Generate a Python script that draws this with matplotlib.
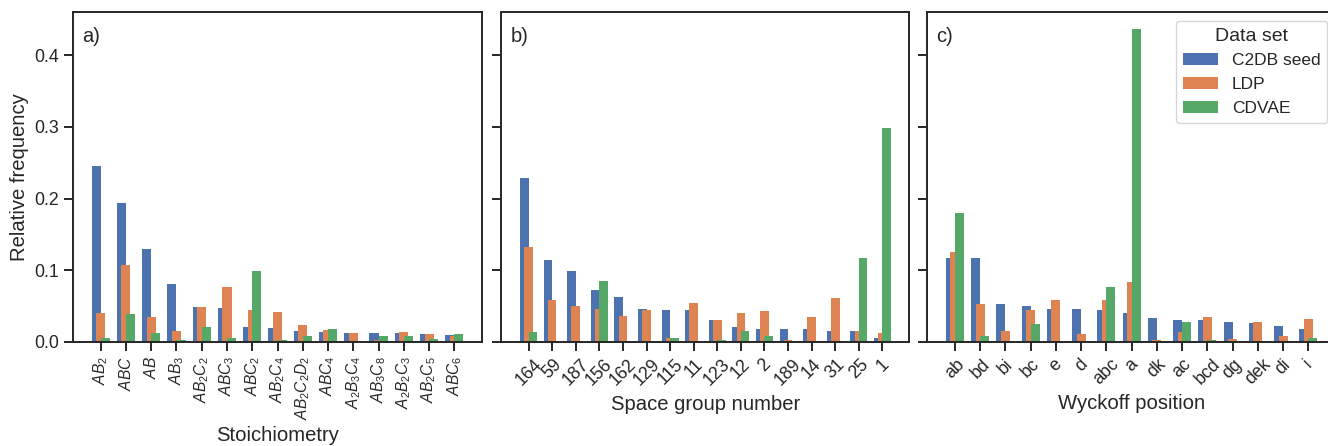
import matplotlib
matplotlib.use("Agg")
import matplotlib.pyplot as plt
import numpy as np

# ---- data ----
series_names = ["C2DB seed", "LDP", "CDVAE"]
colors = ["#4C72B0", "#DD8452", "#55A868"]

stoich_labels = ["$AB_2$", "$ABC$", "$AB$", "$AB_3$", "$AB_2C_2$", "$ABC_3$", "$ABC_2$",
                 "$AB_2C_4$", "$AB_2C_2D_2$", "$ABC_4$", "$A_2B_3C_4$", "$AB_3C_8$",
                 "$A_2B_2C_3$", "$AB_2C_5$", "$ABC_6$"]
stoich_c2db = [0.245, 0.194, 0.129, 0.081, 0.049, 0.048, 0.021, 0.020, 0.016, 0.0145,
               0.013, 0.013, 0.013, 0.0116, 0.010]
stoich_ldp = [0.041, 0.108, 0.035, 0.016, 0.049, 0.077, 0.044, 0.042, 0.024, 0.017,
              0.013, 0.003, 0.0145, 0.0116, 0.009]
stoich_cdvae = [0.006, 0.0395, 0.013, 0.003, 0.021, 0.006, 0.0995, 0.003, 0.009, 0.0186,
                0.002, 0.009, 0.009, 0.0047, 0.0116]

sg_labels = ["164", "59", "187", "156", "162", "129", "115", "11", "123", "12", "2",
             "189", "14", "31", "25", "1"]
sg_c2db = [0.229, 0.115, 0.0995, 0.073, 0.063, 0.0465, 0.045, 0.045, 0.030, 0.021,
           0.0186, 0.0186, 0.0186, 0.016, 0.016, 0.006]
sg_ldp = [0.133, 0.059, 0.0507, 0.0465, 0.0367, 0.045, 0.006, 0.055, 0.030, 0.041,
          0.0437, 0.003, 0.035, 0.062, 0.016, 0.013]
sg_cdvae = [0.0144, 0.002, 0.002, 0.0856, 0.002, 0.002, 0.006, 0.0, 0.003, 0.016,
            0.009, 0.0, 0.0, 0.0, 0.1177, 0.2977]

wy_labels = ["ab", "bd", "bi", "bc", "e", "d", "abc", "a", "dk", "ac", "bcd", "dg",
             "dek", "di", "i"]
wy_c2db = [0.1177, 0.1177, 0.0535, 0.0507, 0.0465, 0.0465, 0.045, 0.041, 0.034, 0.031,
           0.030, 0.0284, 0.027, 0.0228, 0.0186]
wy_ldp = [0.126, 0.0535, 0.016, 0.045, 0.059, 0.0116, 0.059, 0.084, 0.003, 0.0144,
          0.035, 0.0047, 0.0284, 0.009, 0.0326]
wy_cdvae = [0.1805, 0.009, 0.0, 0.0256, 0.0, 0.002, 0.077, 0.437, 0.0, 0.0284,
            0.003, 0.0, 0.0, 0.0, 0.006]

# ---- style ----
plt.rcParams['font.family'] = ['Liberation Sans', 'DejaVu Sans']
plt.rcParams['mathtext.fontset'] = 'custom'
plt.rcParams['mathtext.rm'] = 'Liberation Sans'
plt.rcParams['mathtext.it'] = 'Liberation Sans:italic'
plt.rcParams['mathtext.bf'] = 'Liberation Sans:bold'
plt.rcParams['text.color'] = '#262626'
plt.rcParams['axes.labelcolor'] = '#262626'
plt.rcParams['xtick.color'] = '#262626'
plt.rcParams['ytick.color'] = '#262626'
plt.rcParams['axes.edgecolor'] = '#262626'
plt.rcParams['axes.linewidth'] = 1.4
plt.rcParams['xtick.major.width'] = 1.4
plt.rcParams['ytick.major.width'] = 1.4
plt.rcParams['xtick.major.size'] = 6.6
plt.rcParams['ytick.major.size'] = 6.6
plt.rcParams['xtick.labelsize'] = 12.8
plt.rcParams['ytick.labelsize'] = 12.8
plt.rcParams['axes.labelsize'] = 14.6

W, H = 1328, 446
fig = plt.figure(figsize=(W / 100, H / 100), dpi=100)
bottom = 104 / H
height = 330 / H
ax_a = fig.add_axes([73 / W, bottom, 409 / W, height])
ax_b = fig.add_axes([501.5 / W, bottom, 408 / W, height])
ax_c = fig.add_axes([927.3 / W, bottom, 408.7 / W, height])

bw = 0.36
offsets = [-0.18, 0.0, 0.18]

panels = [
    (ax_a, stoich_labels, [stoich_c2db, stoich_ldp, stoich_cdvae], "Stoichiometry", "a)", 90, 11.2),
    (ax_b, sg_labels, [sg_c2db, sg_ldp, sg_cdvae], "Space group number", "b)", 45, 12.8),
    (ax_c, wy_labels, [wy_c2db, wy_ldp, wy_cdvae], "Wyckoff position", "c)", 45, 12.8),
]

for ax, labels, vals, xlabel, letter, rot, tfs in panels:
    x = np.arange(len(labels))
    for k in range(3):
        ax.bar(x + offsets[k], vals[k], width=bw, color=colors[k],
               label=series_names[k], linewidth=0)
    ax.set_xticks(x)
    ax.set_xticklabels(labels, rotation=rot, ha='center', fontsize=tfs)
    ax.set_xlabel(xlabel)
    ax.set_ylim(0, 0.46)
    ax.set_yticks([0.0, 0.1, 0.2, 0.3, 0.4])
    ax.text(0.022, 0.955, letter, transform=ax.transAxes, ha='left', va='top',
            fontsize=14.5)

ax_a.set_ylabel("Relative frequency")
ax_b.set_yticklabels([])
ax_c.set_yticklabels([])

leg = ax_c.legend(title="Data set", loc='upper right', fontsize=12.5,
                  title_fontsize=14, fancybox=True, framealpha=0.8,
                  edgecolor='#cccccc')

fig.savefig("out.png", dpi=100)
